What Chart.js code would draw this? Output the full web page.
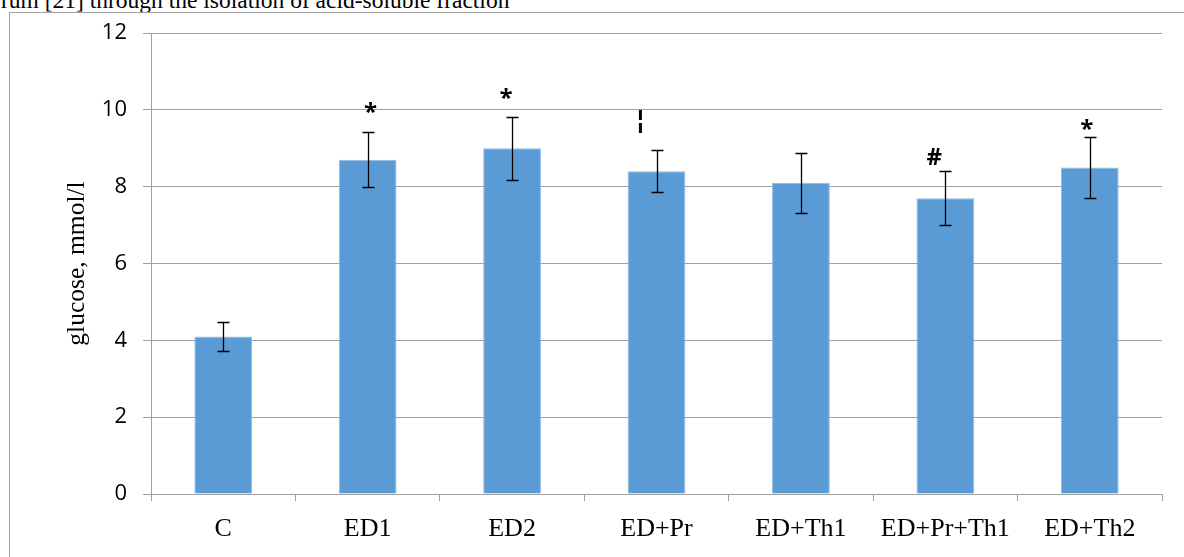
<!DOCTYPE html>
<html>
<head>
<meta charset="utf-8">
<script src="https://cdn.jsdelivr.net/npm/chart.js@4.4.1/dist/chart.umd.min.js"></script>
<style>
  html, body { margin: 0; padding: 0; background: #fff; width: 1184px; height: 557px; overflow: hidden; }
  #caption { position: absolute; left: 1px; top: -13.5px; font: 23.5px "Liberation Serif", "Times New Roman", serif; white-space: nowrap; color: #000; }
  #frame { position: absolute; left: 9px; top: 12px; width: 1200px; height: 600px; border-left: 1px solid #a0a0a0; border-top: 1px solid #a0a0a0; }
  #chart { position: absolute; left: 0; top: 0; }
</style>
</head>
<body>
<div id="caption">rum [21] through the isolation of acid-soluble fraction</div>
<div id="frame"></div>
<canvas id="chart" width="1184" height="557"></canvas>
<script>
// glucose by group, mmol/l
const groups = ['C', 'ED1', 'ED2', 'ED+Pr', 'ED+Th1', 'ED+Pr+Th1', 'ED+Th2'];
const glucose = [4.1, 8.7, 9.0, 8.4, 8.1, 7.7, 8.5];
const errors = [0.37, 0.71, 0.82, 0.55, 0.78, 0.71, 0.79];
// significance marks and the level they sit at
const markText = ['', '*', '*', '¦', '', '#', '*'];
const markLevel = [null, 10.05, 10.4, 9.7, null, 8.75, 9.6];

// small hand-placed nudges of the marks (px), as in the original figure
const markShift = [0, 3, -6, -16, 0, -11, -3];

const GRID = '#a0a0a0';

const errorBars = {
  id: 'errorBars',
  afterDatasetsDraw(chart) {
    const { ctx, scales: { x, y } } = chart;
    ctx.save();
    ctx.strokeStyle = '#000';
    ctx.lineWidth = 1.3;
    glucose.forEach((v, i) => {
      const cx = Math.round(x.getPixelForValue(i)) + 0.5;
      const top = Math.round(y.getPixelForValue(v + errors[i])) + 0.5;
      const bot = Math.round(y.getPixelForValue(v - errors[i])) + 0.5;
      ctx.beginPath();
      ctx.moveTo(cx, top); ctx.lineTo(cx, bot);
      ctx.moveTo(cx - 6, top); ctx.lineTo(cx + 6, top);
      ctx.moveTo(cx - 6, bot); ctx.lineTo(cx + 6, bot);
      ctx.stroke();
    });
    ctx.restore();
  },
};

const marks = {
  id: 'marks',
  afterDatasetsDraw(chart) {
    const { ctx, scales: { x, y } } = chart;
    ctx.save();
    ctx.fillStyle = '#000';
    ctx.textAlign = 'center';
    ctx.textBaseline = 'middle';
    markText.forEach((t, i) => {
      if (!t) return;
      ctx.font = t === '¦' ? 'bold 27px "DejaVu Sans"' : 'bold 24px "Open Sans"';
      const cx = x.getPixelForValue(i) + markShift[i];
      const cy = y.getPixelForValue(markLevel[i]);
      ctx.fillText(t, cx, t === '*' ? cy + 5 : cy);
    });
    ctx.restore();
  },
};

new Chart(document.getElementById('chart').getContext('2d'), {
  type: 'bar',
  data: {
    labels: groups,
    datasets: [{
      data: glucose,
      backgroundColor: '#5b9bd5',
      borderColor: '#8fb9e4',
      borderWidth: 1,
      barPercentage: 0.4,
      categoryPercentage: 1,
    }],
  },
  options: {
    responsive: false,
    animation: false,
    layout: { padding: { top: 33, right: 22, left: 0, bottom: 0 } },
    plugins: { legend: { display: false }, tooltip: { enabled: false } },
    scales: {
      x: {
        grid: { display: true, drawOnChartArea: false, offset: true, color: GRID, tickLength: 7 },
        border: { color: GRID },
        ticks: { color: '#000', font: { family: '"Liberation Serif"', size: 26 }, padding: 13 },
        afterFit: s => { s.height = 63; },
      },
      y: {
        min: 0,
        max: 12,
        ticks: { stepSize: 2, color: '#000', font: { family: '"Open Sans"', size: 22 }, padding: 16 },
        grid: { color: GRID, tickLength: 8 },
        border: { color: GRID },
        title: {
          display: true,
          text: 'glucose, mmol/l',
          color: '#000',
          font: { family: '"Liberation Serif"', size: 25.5 },
          padding: { top: 62, bottom: 0 },
        },
        afterFit: s => { s.width = 151; },
      },
    },
  },
  plugins: [errorBars, marks],
});
</script>
</body>
</html>
